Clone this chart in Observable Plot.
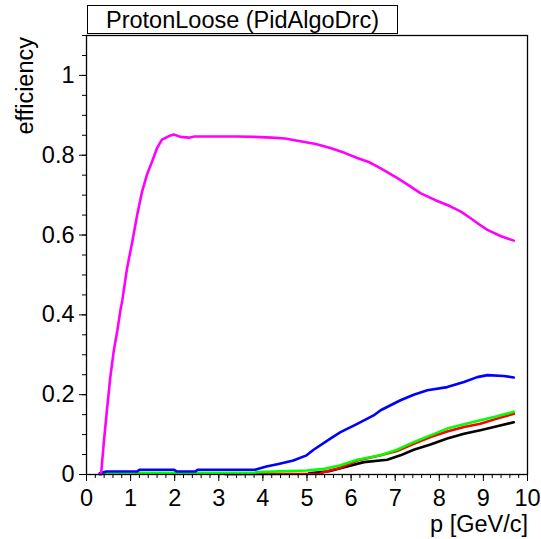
<!DOCTYPE html>
<html>
<head>
<meta charset="utf-8">
<script src="https://cdn.jsdelivr.net/npm/d3@7"></script>
<script src="https://cdn.jsdelivr.net/npm/@observablehq/plot@0.6"></script>
<style>
  html, body { margin: 0; padding: 0; background: #fff; }
  #wrap { position: relative; width: 541px; height: 539px; font-family: "Liberation Sans", Arial, sans-serif; }
  #wrap svg { position: absolute; left: 0; top: 0; }
  .lbl { position: absolute; white-space: nowrap; color: #000; font-size: 23.5px; line-height: 1; }
  #title { position: absolute; left: 87px; top: 5px; width: 311px; height: 29px; border: 1px solid #000; background: #fff;
           font-size: 23.5px; line-height: 29px; text-align: center; box-sizing: border-box; }
</style>
</head>
<body>
<div id="wrap"></div>
<script>
const title = "ProtonLoose (PidAlgoDrc)";
const xLabel = "p [GeV/c]";
const yLabel = "efficiency";
const xTicks = [0,1,2,3,4,5,6,7,8,9,10];
const yTicks = [0,0.2,0.4,0.6,0.8,1];
const yTickLabels = ["0","0.2","0.4","0.6","0.8","1"];

const magentaP = [0.30,0.33,0.39,0.47,0.54,0.62,0.70,0.77,0.81,0.92,1.04,1.15,1.26,1.37,1.49,1.60,1.71,1.87,1.98,2.13,2.32,2.45,3.0,3.4,3.8,4.2,4.5,4.85,5.2,5.53,5.85,6.14,6.4,6.59,6.8,7.04,7.3,7.57,7.9,8.25,8.5,8.71,8.9,9.09,9.4,9.69];
const magentaEff = [0,0,0.077,0.169,0.244,0.311,0.361,0.412,0.435,0.517,0.584,0.651,0.709,0.751,0.785,0.818,0.839,0.848,0.852,0.846,0.844,0.847,0.847,0.847,0.846,0.844,0.842,0.835,0.828,0.818,0.806,0.793,0.783,0.772,0.759,0.743,0.725,0.705,0.688,0.672,0.658,0.642,0.627,0.613,0.597,0.586];

const blueP = [0.30,0.45,1.15,1.20,1.98,2.05,2.47,2.52,3.82,4.08,4.38,4.69,4.99,5.15,5.53,5.76,6.14,6.51,6.67,7.12,7.42,7.73,8.18,8.56,8.86,9.09,9.46,9.69];
const blueEff = [0.003,0.0075,0.0075,0.012,0.012,0.0075,0.0075,0.012,0.012,0.02,0.027,0.035,0.048,0.062,0.09,0.106,0.127,0.148,0.161,0.186,0.2,0.211,0.219,0.232,0.244,0.249,0.247,0.243];

const greenP = [0.30,1.1,1.15,3.8,3.85,5.0,5.38,5.76,6.14,6.67,7.04,7.42,7.80,8.18,8.56,8.93,9.31,9.69];
const greenEff = [0.002,0.002,0.004,0.004,0.006,0.01,0.014,0.023,0.037,0.048,0.062,0.081,0.098,0.115,0.126,0.136,0.146,0.157];

const redP = [3.14,5.3,5.38,5.76,6.14,6.67,7.04,7.42,7.80,8.18,8.56,8.93,9.31,9.69];
const redEff = [0.001,0.002,0.006,0.017,0.035,0.048,0.059,0.077,0.094,0.108,0.119,0.127,0.14,0.152];

const blackP = [5.05,5.5,5.91,6.29,6.82,7.12,7.42,7.80,8.18,8.56,8.93,9.31,9.69];
const blackEff = [0.003,0.008,0.02,0.031,0.037,0.048,0.062,0.075,0.09,0.102,0.111,0.121,0.131];

const series = [
  {name: "black", color: "#000000", p: blackP, e: blackEff},
  {name: "red", color: "#ff0000", p: redP, e: redEff},
  {name: "green", color: "#00ff00", p: greenP, e: greenEff},
  {name: "blue", color: "#0000ff", p: blueP, e: blueEff},
  {name: "magenta", color: "#ff00ff", p: magentaP, e: magentaEff}
];

const lineMarks = series.map(s =>
  Plot.line(s.p.map((p, i) => ({p, e: s.e[i]})), {x: "p", y: "e", stroke: s.color, strokeWidth: 2.6, curve: "linear"})
);

const minorX = d3.range(0, 10.001, 0.2).map(v => +v.toFixed(2));
const minorY = d3.range(0, 1.1001, 0.05).map(v => +v.toFixed(2));

const chart = Plot.plot({
  width: 541,
  height: 539,
  marginLeft: 86,
  marginRight: 14,
  marginTop: 35,
  marginBottom: 65,
  style: {fontFamily: "'Liberation Sans', Arial, sans-serif", fontSize: "23.5px", color: "#000", background: "transparent"},
  x: {domain: [0, 10]},
  y: {domain: [0, 1.1]},
  marks: [
    Plot.axisX({ticks: minorX, tickSize: 4, tickFormat: () => "", label: null, stroke: "#000"}),
    Plot.axisX({ticks: xTicks, tickSize: 7, tickPadding: 8, label: null, fontSize: 23.5, stroke: "#000", fill: "#000"}),
    Plot.axisY({ticks: minorY, tickSize: 4, tickFormat: () => "", label: null, stroke: "#000"}),
    Plot.axisY({ticks: yTicks, tickSize: 7, tickPadding: 5, label: null, fontSize: 23.5, stroke: "#000", fill: "#000",
                tickFormat: d => yTickLabels[yTicks.indexOf(d)]}),
    ...lineMarks,
    Plot.frame({stroke: "#000", strokeWidth: 1.3})
  ]
});

const wrap = document.getElementById("wrap");
wrap.appendChild(chart);

const t = document.createElement("div");
t.id = "title";
t.textContent = title;
wrap.appendChild(t);

const xl = document.createElement("div");
xl.className = "lbl";
xl.textContent = xLabel;
xl.style.right = (541 - 528) + "px";
xl.style.top = "513px";
wrap.appendChild(xl);

const yl = document.createElement("div");
yl.className = "lbl";
yl.textContent = yLabel;
yl.style.left = "0px";
yl.style.top = "0px";
yl.style.transformOrigin = "0 0";
yl.style.transform = "translate(14px, 37px) rotate(-90deg) translate(-100%, 0)";
wrap.appendChild(yl);
</script>
</body>
</html>
